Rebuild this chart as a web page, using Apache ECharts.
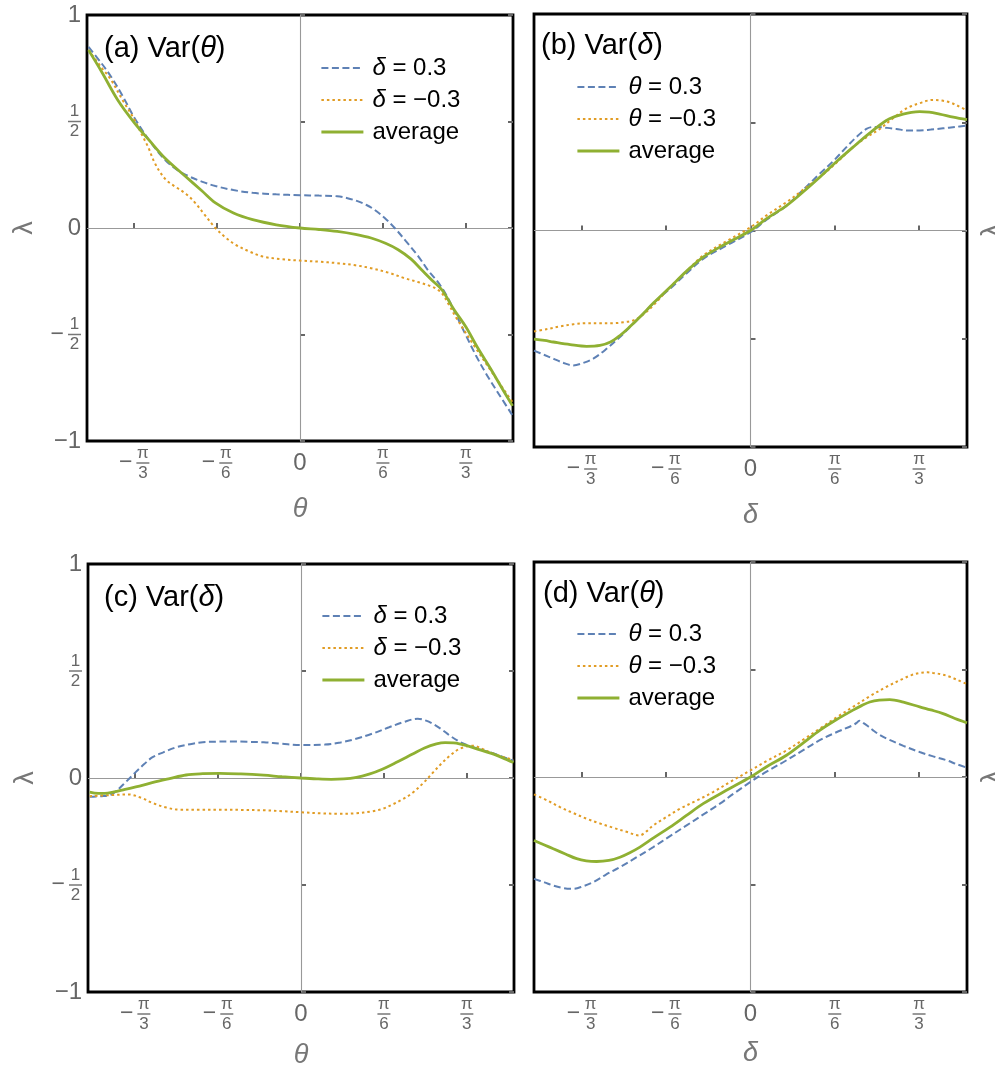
<!DOCTYPE html>
<html><head><meta charset="utf-8">
<script src="https://cdn.jsdelivr.net/npm/echarts@6/dist/echarts.min.js"></script>
<style>html,body{margin:0;padding:0;background:#fff}#c{width:995px;height:1066px}</style>
</head><body><div id="c"></div>
<script>
const PI = Math.PI;
const xTickValues = [-PI/3, -PI/6, 0, PI/6, PI/3];
const xTickLabels = ['−π/3', '−π/6', '0', 'π/6', 'π/3'];
const yTickValues = [-1, -0.5, 0, 0.5, 1];
const yTickLabels = ['−1', '−1/2', '0', '1/2', '1'];
const panelTitles = [['(a) Var(', 'θ', ')'], ['(b) Var(', 'δ', ')'], ['(c) Var(', 'δ', ')'], ['(d) Var(', 'θ', ')']];
const xAxisNames = ['θ', 'δ', 'θ', 'δ'];
const namesDelta = ['δ = 0.3', 'δ = −0.3', 'average'];
const namesTheta = ['θ = 0.3', 'θ = −0.3', 'average'];

// panel (a)
const aBlue = [[-1.335,0.85],[-1.25,0.77],[-1.197,0.715],[-1.12,0.62],[-1.047,0.519],[-0.95,0.41],[-0.855,0.322],[-0.78,0.275],[-0.705,0.244],[-0.62,0.218],[-0.534,0.197],[-0.42,0.178],[-0.299,0.165],[-0.15,0.158],[0,0.154],[0.12,0.152],[0.235,0.149],[0.3,0.14],[0.363,0.126],[0.42,0.108],[0.47,0.086],[0.535,0.047],[0.598,0],[0.67,-0.063],[0.748,-0.134],[0.81,-0.2],[0.876,-0.259],[0.92,-0.31],[0.962,-0.37],[1.047,-0.503],[1.11,-0.597],[1.175,-0.684],[1.26,-0.785],[1.342,-0.88]];
const aOrange = [[-1.335,0.835],[-1.25,0.75],[-1.197,0.7],[-1.12,0.6],[-1.047,0.511],[-1.0,0.44],[-0.962,0.385],[-0.92,0.31],[-0.88,0.258],[-0.84,0.222],[-0.79,0.195],[-0.72,0.16],[-0.662,0.118],[-0.6,0.06],[-0.534,0],[-0.47,-0.045],[-0.406,-0.079],[-0.32,-0.11],[-0.235,-0.134],[-0.12,-0.146],[0,-0.153],[0.12,-0.158],[0.235,-0.165],[0.35,-0.175],[0.449,-0.189],[0.56,-0.21],[0.662,-0.236],[0.75,-0.255],[0.833,-0.275],[0.87,-0.29],[0.897,-0.307],[0.94,-0.36],[0.983,-0.417],[1.09,-0.542],[1.218,-0.684],[1.342,-0.818]];
const aAvg = [[-1.335,0.835],[-1.25,0.73],[-1.15,0.6],[-1.047,0.495],[-0.95,0.41],[-0.855,0.33],[-0.726,0.244],[-0.62,0.175],[-0.534,0.118],[-0.42,0.07],[-0.299,0.039],[-0.15,0.015],[0,0],[0.12,-0.007],[0.235,-0.016],[0.35,-0.03],[0.449,-0.047],[0.54,-0.072],[0.62,-0.102],[0.7,-0.145],[0.769,-0.197],[0.84,-0.25],[0.897,-0.291],[0.97,-0.38],[1.047,-0.464],[1.12,-0.56],[1.197,-0.653],[1.27,-0.745],[1.342,-0.835]];
// panel (b)
const bBlue = [[-1.345,-0.555],[-1.28,-0.575],[-1.225,-0.592],[-1.16,-0.612],[-1.101,-0.623],[-1.04,-0.612],[-0.977,-0.592],[-0.9,-0.55],[-0.811,-0.492],[-0.75,-0.447],[-0.687,-0.4],[-0.6,-0.334],[-0.5,-0.269],[-0.4,-0.2],[-0.294,-0.131],[-0.15,-0.07],[0,-0.008],[0.1,0.05],[0.224,0.115],[0.33,0.19],[0.43,0.262],[0.52,0.325],[0.596,0.385],[0.66,0.433],[0.72,0.469],[0.76,0.478],[0.803,0.477],[0.85,0.474],[0.906,0.469],[0.98,0.462],[1.051,0.462],[1.12,0.466],[1.196,0.472],[1.27,0.478],[1.345,0.485]];
const bOrange = [[-1.345,-0.466],[-1.26,-0.455],[-1.184,-0.443],[-1.1,-0.433],[-1.018,-0.428],[-0.94,-0.428],[-0.853,-0.428],[-0.79,-0.424],[-0.728,-0.415],[-0.67,-0.39],[-0.604,-0.346],[-0.5,-0.262],[-0.4,-0.19],[-0.294,-0.115],[-0.15,-0.05],[0,0.015],[0.1,0.07],[0.224,0.131],[0.33,0.19],[0.43,0.246],[0.53,0.31],[0.637,0.385],[0.72,0.43],[0.803,0.469],[0.88,0.515],[0.948,0.554],[1.0,0.575],[1.051,0.588],[1.1,0.6],[1.134,0.603],[1.19,0.6],[1.238,0.592],[1.29,0.575],[1.345,0.554]];
const bAvg = [[-1.345,-0.502],[-1.28,-0.508],[-1.225,-0.515],[-1.12,-0.527],[-1.018,-0.535],[-0.935,-0.531],[-0.87,-0.515],[-0.811,-0.485],[-0.75,-0.445],[-0.687,-0.4],[-0.6,-0.333],[-0.5,-0.262],[-0.4,-0.19],[-0.294,-0.123],[-0.15,-0.06],[0,0],[0.1,0.055],[0.224,0.115],[0.33,0.18],[0.43,0.246],[0.53,0.315],[0.637,0.385],[0.74,0.45],[0.844,0.508],[0.9,0.527],[0.948,0.538],[1.0,0.546],[1.051,0.549],[1.11,0.547],[1.175,0.538],[1.26,0.524],[1.345,0.512]];
// panel (c)
const cBlue = [[-1.335,-0.088],[-1.26,-0.085],[-1.197,-0.077],[-1.15,-0.05],[-1.111,-0.022],[-1.047,0.025],[-0.99,0.065],[-0.94,0.096],[-0.87,0.12],[-0.79,0.143],[-0.7,0.158],[-0.62,0.167],[-0.53,0.17],[-0.449,0.171],[-0.34,0.169],[-0.235,0.167],[-0.12,0.16],[0,0.154],[0.15,0.156],[0.25,0.166],[0.342,0.182],[0.45,0.207],[0.556,0.237],[0.65,0.262],[0.737,0.277],[0.79,0.268],[0.833,0.253],[0.89,0.226],[0.94,0.198],[1.0,0.17],[1.047,0.154],[1.12,0.136],[1.197,0.119],[1.27,0.1],[1.342,0.08]];
const cOrange = [[-1.335,-0.085],[-1.2,-0.08],[-1.09,-0.077],[-1.0,-0.095],[-0.94,-0.116],[-0.85,-0.138],[-0.769,-0.148],[-0.64,-0.148],[-0.513,-0.148],[-0.38,-0.149],[-0.235,-0.151],[-0.12,-0.155],[0,-0.16],[0.12,-0.165],[0.235,-0.167],[0.34,-0.165],[0.449,-0.156],[0.52,-0.143],[0.577,-0.124],[0.64,-0.1],[0.705,-0.069],[0.77,-0.025],[0.833,0.025],[0.89,0.07],[0.94,0.104],[0.99,0.132],[1.026,0.143],[1.06,0.15],[1.09,0.151],[1.14,0.137],[1.197,0.119],[1.27,0.1],[1.342,0.085]];
const cAvg = [[-1.335,-0.066],[-1.28,-0.072],[-1.239,-0.072],[-1.18,-0.065],[-1.111,-0.053],[-1.02,-0.038],[-0.94,-0.022],[-0.83,-0.003],[-0.726,0.014],[-0.62,0.02],[-0.513,0.022],[-0.38,0.019],[-0.235,0.013],[-0.12,0.006],[0,0],[0.1,-0.004],[0.192,-0.006],[0.27,-0.004],[0.342,0.002],[0.43,0.018],[0.513,0.041],[0.61,0.076],[0.705,0.112],[0.78,0.14],[0.855,0.159],[0.91,0.165],[0.962,0.164],[1.0,0.16],[1.047,0.151],[1.12,0.134],[1.197,0.116],[1.27,0.095],[1.342,0.072]];
// panel (d)
const dBlue = [[-1.345,-0.474],[-1.28,-0.49],[-1.225,-0.505],[-1.16,-0.517],[-1.101,-0.52],[-1.04,-0.508],[-0.977,-0.489],[-0.9,-0.455],[-0.811,-0.419],[-0.7,-0.37],[-0.604,-0.326],[-0.5,-0.275],[-0.397,-0.225],[-0.29,-0.173],[-0.19,-0.124],[-0.1,-0.075],[0,-0.023],[0.1,0.025],[0.224,0.078],[0.33,0.126],[0.43,0.171],[0.53,0.207],[0.637,0.241],[0.66,0.252],[0.675,0.262],[0.7,0.252],[0.73,0.236],[0.762,0.217],[0.8,0.197],[0.844,0.179],[0.95,0.145],[1.051,0.116],[1.13,0.097],[1.217,0.078],[1.28,0.06],[1.345,0.043]];
const dOrange = [[-1.345,-0.081],[-1.26,-0.11],[-1.184,-0.14],[-1.1,-0.168],[-1.018,-0.194],[-0.94,-0.215],[-0.853,-0.236],[-0.77,-0.255],[-0.69,-0.272],[-0.65,-0.255],[-0.604,-0.225],[-0.52,-0.185],[-0.439,-0.148],[-0.33,-0.108],[-0.232,-0.07],[-0.12,-0.02],[0,0.031],[0.1,0.074],[0.224,0.124],[0.33,0.175],[0.43,0.225],[0.53,0.275],[0.637,0.326],[0.74,0.375],[0.844,0.419],[0.95,0.458],[1.0,0.474],[1.051,0.484],[1.1,0.487],[1.134,0.484],[1.19,0.477],[1.238,0.466],[1.29,0.45],[1.345,0.432]];
const dAvg = [[-1.345,-0.295],[-1.28,-0.316],[-1.225,-0.334],[-1.15,-0.358],[-1.08,-0.38],[-1.02,-0.39],[-0.956,-0.393],[-0.88,-0.388],[-0.811,-0.373],[-0.75,-0.352],[-0.687,-0.326],[-0.6,-0.282],[-0.5,-0.233],[-0.4,-0.18],[-0.294,-0.124],[-0.15,-0.062],[0,0],[0.1,0.048],[0.224,0.101],[0.33,0.16],[0.43,0.217],[0.53,0.265],[0.637,0.311],[0.69,0.332],[0.741,0.349],[0.8,0.358],[0.865,0.36],[0.95,0.348],[1.051,0.326],[1.12,0.312],[1.196,0.295],[1.27,0.272],[1.345,0.252]];

const panelData = [[aBlue, aOrange, aAvg], [bBlue, bOrange, bAvg], [cBlue, cOrange, cAvg], [dBlue, dOrange, dAvg]];
const panelNames = [namesDelta, namesTheta, namesDelta, namesTheta];

const BLUE = '#5E81B5', ORANGE = '#E19C24', GREEN = '#8FB032';
const FONT = 'Liberation Sans, Arial, sans-serif';
const grids = [
  {left: 87, top: 15, width: 426, height: 426},
  {left: 534, top: 14, width: 433, height: 433},
  {left: 88, top: 564, width: 426, height: 428},
  {left: 534, top: 562, width: 433, height: 430}
];
const xNameGaps = [55, 55, 50, 48];
const legendPos = [{left: 320, top: 55}, {left: 576, top: 74}, {left: 321, top: 603}, {left: 576, top: 621}];
const titlePos = [{left: 104, top: 34}, {left: 541, top: 31}, {left: 104, top: 583}, {left: 543, top: 579}];

function fracLabel(lbl) {
  const neg = lbl[0] === '−';
  const body = neg ? lbl.slice(1) : lbl;
  if (body.indexOf('/') < 0) return '{big|' + lbl + '}';
  const parts = body.split('/');
  const ph = neg ? '{mh|−}' : '';
  const pm = neg ? '{m|−}' : '';
  return ph + '{n|' + parts[0] + '}\n' + pm + '{bar| }\n' + ph + '{d|' + parts[1] + '}';
}
function lookup(vals, labels, v) {
  for (let i = 0; i < vals.length; i++) if (Math.abs(vals[i] - v) < 1e-6) return labels[i];
  return '';
}
const labelRich = {
  big: {fontSize: 24, color: '#666', lineHeight: 36, fontFamily: FONT},
  n: {fontSize: 17, color: '#666', lineHeight: 16, width: 13, align: 'center', fontFamily: FONT},
  d: {fontSize: 17, color: '#666', lineHeight: 16, width: 13, align: 'center', fontFamily: FONT},
  bar: {fontSize: 4, width: 13, height: 1.5, lineHeight: 4, backgroundColor: '#777'},
  m: {fontSize: 23, color: '#666', lineHeight: 4, padding: [0, 4, 0, 0], fontFamily: FONT},
  mh: {fontSize: 23, color: 'rgba(0,0,0,0)', lineHeight: 16, padding: [0, 4, 0, 0], fontFamily: FONT}
};
const tickStyle = {show: true, inside: true, length: 5, lineStyle: {color: '#666', width: 2}};

const xAxes = [], yAxes = [], series = [], legends = [], titles = [];
for (let p = 0; p < 4; p++) {
  const showYLabels = (p === 0 || p === 2);
  xAxes.push({
    type: 'value', gridIndex: p, min: -1.345, max: 1.345,
    axisLine: {show: false}, splitLine: {show: false},
    axisTick: Object.assign({customValues: xTickValues}, tickStyle),
    axisLabel: {customValues: xTickValues, margin: 4, formatter: v => fracLabel(lookup(xTickValues, xTickLabels, v)), rich: labelRich},
    name: xAxisNames[p], nameLocation: 'middle', nameGap: xNameGaps[p],
    nameTextStyle: {fontSize: 27, fontStyle: 'italic', color: '#777', fontFamily: FONT}
  });
  yAxes.push({
    type: 'value', gridIndex: p, min: -1, max: 1, interval: 0.5, position: 'left',
    axisLine: {show: false}, splitLine: {show: false},
    axisTick: tickStyle,
    axisLabel: {show: showYLabels, margin: 6, formatter: v => fracLabel(lookup(yTickValues, yTickLabels, v)), rich: labelRich},
    name: showYLabels ? 'λ' : '', nameLocation: 'middle', nameGap: 49, nameRotate: 90,
    nameTextStyle: {fontSize: 27, color: '#777', fontFamily: FONT}
  });
  yAxes.push({
    type: 'value', gridIndex: p, min: -1, max: 1, interval: 0.5, position: 'right',
    axisLine: {show: false}, splitLine: {show: false},
    axisTick: tickStyle, axisLabel: {show: false},
    name: showYLabels ? '' : 'λ', nameLocation: 'middle', nameGap: 12, nameRotate: 90,
    nameTextStyle: {fontSize: 27, color: '#777', fontFamily: FONT}
  });
  const names = panelNames[p];
  const data = panelData[p];
  const styles = [
    {color: BLUE, width: 2, type: [7, 3.5]},
    {color: ORANGE, width: 2, type: [2.5, 3]},
    {color: GREEN, width: 2.8, type: 'solid'}
  ];
  for (let s = 0; s < 3; s++) {
    const ser = {
      type: 'line', name: names[s], xAxisIndex: p, yAxisIndex: 2 * p,
      data: data[s], showSymbol: false, symbol: 'none', smooth: 0.35,
      lineStyle: styles[s], itemStyle: {color: styles[s].color},
      z: 3 + s, silent: true
    };
    if (s === 0) {
      ser.markLine = {
        silent: true, symbol: ['none', 'none'], label: {show: false}, z: 1,
        lineStyle: {color: '#999', width: 1.1, type: 'solid'},
        data: [{xAxis: 0}, {yAxis: 0}]
      };
    }
    series.push(ser);
  }
  legends.push(Object.assign({
    orient: 'vertical', data: names, itemWidth: 42, itemHeight: 14, itemGap: 6, padding: 0,
    selectedMode: false, itemStyle: {opacity: 0}, lineStyle: {width: 'inherit'},
    textStyle: {fontSize: 24, color: '#000', lineHeight: 26, padding: [0, 0, 0, 4], fontFamily: FONT,
      rich: {i: {fontSize: 24, fontStyle: 'italic', fontFamily: FONT, color: '#000'}, t: {fontSize: 24, fontFamily: FONT, color: '#000'}}},
    formatter: nm => nm === 'average' ? '{t|average}' : '{i|' + nm[0] + '}{t|' + nm.slice(1) + '}'
  }, legendPos[p]));
  const tt = panelTitles[p];
  titles.push(Object.assign({
    text: '{t|' + tt[0] + '}{i|' + tt[1] + '}{t|' + tt[2] + '}', padding: 0,
    textStyle: {fontSize: 29, fontWeight: 'normal', color: '#000', fontFamily: FONT,
      rich: {t: {fontSize: 29, color: '#000', fontFamily: FONT}, i: {fontSize: 29, fontStyle: 'italic', color: '#000', fontFamily: FONT}}}
  }, titlePos[p]));
}

const chart = echarts.init(document.getElementById('c'), null, {renderer: 'canvas'});
chart.setOption({
  backgroundColor: '#fff',
  animation: false,
  textStyle: {fontFamily: FONT},
  title: titles,
  legend: legends,
  grid: grids.map(g => Object.assign({show: true, borderColor: '#000', borderWidth: 2.8, backgroundColor: 'transparent', containLabel: false, outerBoundsMode: 'none'}, g)),
  xAxis: xAxes,
  yAxis: yAxes,
  series: series
});
</script></body></html>
